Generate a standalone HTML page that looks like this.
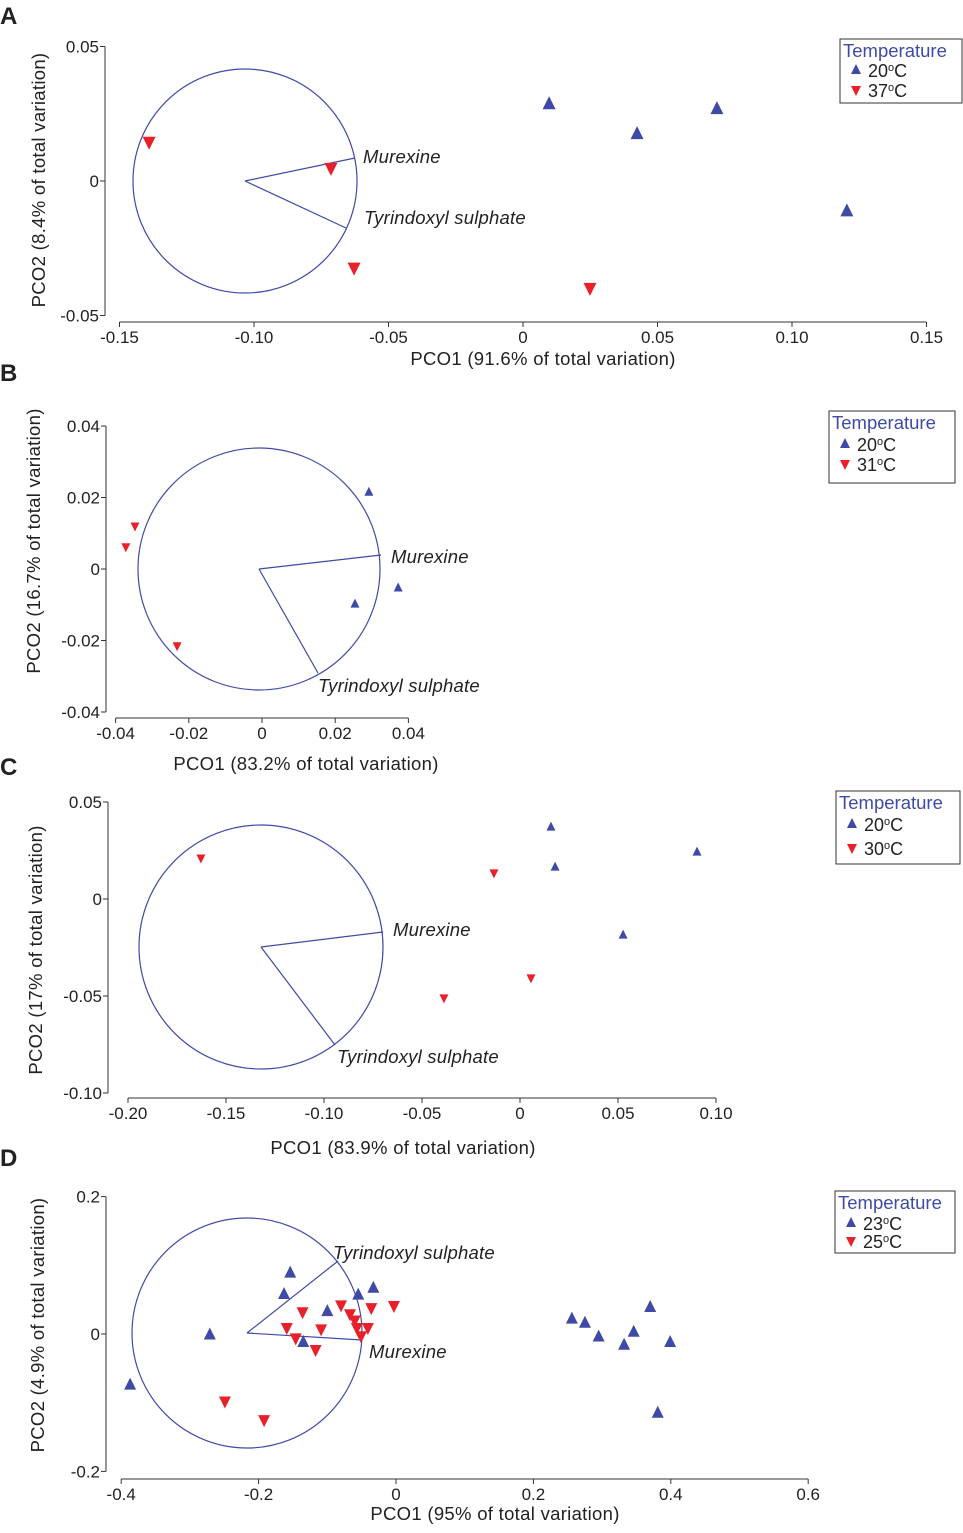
<!DOCTYPE html>
<html><head><meta charset="utf-8"><style>
body{margin:0;background:#fff;width:963px;height:1533px;overflow:hidden}
svg{position:absolute;left:0;top:0}
text{font-family:"Liberation Sans",sans-serif;fill:#222}
</style></head><body>
<svg id="fig" width="963" height="1533"></svg>
<script>
// Panel A data
const aUpX=[0.0097,0.0424,0.0721,0.1204];
const aUpY=[0.0286,0.0175,0.0268,-0.0112];
const aDnX=[-0.139,-0.0714,-0.0628,0.0249];
const aDnY=[0.0145,0.0048,-0.0323,-0.0398];
const aXTicks=[-0.15,-0.10,-0.05,0,0.05,0.10,0.15];
const aXLabels=["-0.15","-0.10","-0.05","0","0.05","0.10","0.15"];
const aYTicks=[0.05,0,-0.05];
const aYLabels=["0.05","0","-0.05"];
// Panel B data
const bUpX=[0.0292,0.0372,0.0254];
const bUpY=[0.0215,-0.0053,-0.0098];
const bDnX=[-0.0347,-0.0372,-0.0232];
const bDnY=[0.012,0.0062,-0.0215];
const bXTicks=[-0.04,-0.02,0,0.02,0.04];
const bXLabels=["-0.04","-0.02","0","0.02","0.04"];
const bYTicks=[0.04,0.02,0,-0.02,-0.04];
const bYLabels=["0.04","0.02","0","-0.02","-0.04"];
// Panel C data
const cUpX=[0.0158,0.0179,0.0903,0.0526];
const cUpY=[0.0371,0.0165,0.0242,-0.0186];
const cDnX=[-0.1628,-0.0133,0.0056,-0.0388];
const cDnY=[0.0211,0.0134,-0.0407,-0.051];
const cXTicks=[-0.20,-0.15,-0.10,-0.05,0,0.05,0.10];
const cXLabels=["-0.20","-0.15","-0.10","-0.05","0","0.05","0.10"];
const cYTicks=[0.05,0,-0.05,-0.10];
const cYLabels=["0.05","0","-0.05","-0.10"];
// Panel D data
const dUpX=[-0.387,-0.271,-0.154,-0.163,-0.135,-0.100,-0.055,-0.033,0.256,0.275,0.295,0.332,0.346,0.370,0.399,0.381];
const dUpY=[-0.074,-0.001,0.089,0.058,-0.012,0.033,0.057,0.067,0.022,0.016,-0.004,-0.016,0.003,0.039,-0.012,-0.115];
const dDnX=[-0.159,-0.146,-0.136,-0.117,-0.109,-0.080,-0.067,-0.060,-0.057,-0.051,-0.041,-0.036,-0.003,-0.249,-0.192];
const dDnY=[0.009,-0.006,0.032,-0.023,0.007,0.042,0.029,0.020,0.009,-0.003,0.009,0.038,0.041,-0.098,-0.125];
const dXTicks=[-0.4,-0.2,0,0.2,0.4,0.6];
const dXLabels=["-0.4","-0.2","0","0.2","0.4","0.6"];
const dYTicks=[0.2,0,-0.2];
const dYLabels=["0.2","0","-0.2"];

const NS="http://www.w3.org/2000/svg";
const svg=document.getElementById('fig');
const BLUE="#3f4aa6",RED="#e8202a";
function mk(tag,attrs,parent){const e=document.createElementNS(NS,tag);for(const k in attrs)e.setAttribute(k,attrs[k]);(parent||svg).appendChild(e);return e;}
function txt(s,x,y,size,parent,anchor,extra){const t=mk('text',Object.assign({x:x,y:y,'font-size':size,'text-anchor':anchor||'start'},extra||{}),parent);t.textContent=s;return t;}

function panel(P){
  const g=mk('g',{});
  
  
  const sx=v=>P.x0+v*P.kx, sy=v=>P.y0-v*P.ky;
  const lab=txt(P.id,0,P.labY,24,g,'start',{'font-weight':'bold'});
  
  const ya=mk('line',{x1:P.yAxX,x2:P.yAxX,y1:sy(P.yT[0]),y2:sy(P.yT[P.yT.length-1]),stroke:'#333','stroke-width':1},g);
  
  const xa=mk('line',{x1:sx(P.xT[0]),x2:sx(P.xT[P.xT.length-1]),y1:P.xAxY,y2:P.xAxY,stroke:'#333','stroke-width':1},g);
  
  P.xT.forEach((v,i)=>{
    mk('line',{x1:sx(v),x2:sx(v),y1:P.xAxY,y2:P.xAxY+5,stroke:'#333'},g);
    const t=txt(P.xL[i],sx(v),P.xAxY+21,17,g,'middle');
    
  });
  P.yT.forEach((v,i)=>{
    mk('line',{x1:P.yAxX-5,x2:P.yAxX,y1:sy(v),y2:sy(v),stroke:'#333'},g);
    const t=txt(P.yL[i],P.yAxX-6,sy(v)+6,17,g,'end');
    
  });
  const xt=txt(P.xTitle,P.xTitleX,P.xTitleY,18.5,g,'middle',{'letter-spacing':'0.3'});
  
  const yt=txt(P.yTitle,0,0,18.5,g,'middle',{'letter-spacing':'0.3',transform:`translate(${P.yTitleX},${P.yTitleY}) rotate(-90)`});
  
  const c=mk('circle',{cx:P.cx,cy:P.cy,r:P.r,fill:'none',stroke:BLUE,'stroke-width':1.2},g);
  
  P.vec.forEach(v=>{
    const l=mk('line',{x1:P.cx,y1:P.cy,x2:v[0],y2:v[1],stroke:BLUE,'stroke-width':1.2},g);
    
    const t=txt(v[2],v[3],v[4],18.5,g,'start',{'font-style':'italic','letter-spacing':'0.2'});
    
  });
  const s=P.ts;
  P.upX.forEach((x,i)=>{
    const px=sx(x),py=sy(P.upY[i]);
    const p=mk('polygon',{points:`${px},${py-s*0.6} ${px-s/2},${py+s*0.4} ${px+s/2},${py+s*0.4}`,fill:BLUE},g);
    
  });
  P.dnX.forEach((x,i)=>{
    const px=sx(x),py=sy(P.dnY[i]);
    const p=mk('polygon',{points:`${px},${py+s*0.6} ${px-s/2},${py-s*0.4} ${px+s/2},${py-s*0.4}`,fill:RED},g);
    
  });
  const L=P.leg;
  const lg=mk('g',{},g);
  
  mk('rect',{x:L.x,y:L.y,width:L.w,height:L.h,fill:'#fff',stroke:'#333','stroke-width':1},lg);
  const lt=txt('Temperature',L.x+3,L.y+18,18.5,lg,'start',{style:'fill:'+BLUE});
  
  const ls=10;
  [[L.t1,BLUE,true,L.r1],[L.t2,RED,false,L.r2]].forEach(e=>{
    const yy=L.y+e[3],px=L.x+16;
    const pts=e[2]?`${px},${yy-ls*0.6} ${px-ls/2},${yy+ls*0.4} ${px+ls/2},${yy+ls*0.4}`:`${px},${yy+ls*0.6} ${px-ls/2},${yy-ls*0.4} ${px+ls/2},${yy-ls*0.4}`;
    mk('polygon',{points:pts,fill:e[1]},lg);
    const t=txt('',L.x+28,yy+7,18,lg);
    
    t.innerHTML=e[0]+'<tspan font-size="11" dy="-6">o</tspan><tspan dy="6">C</tspan>';
  });
}

panel({id:'A',labY:24,x0:523,kx:2690,y0:181,ky:2690,yAxX:105,xAxY:322,xT:aXTicks,xL:aXLabels,yT:aYTicks,yL:aYLabels,
 xTitle:'PCO1 (91.6% of total variation)',xTitleX:543,xTitleY:365,yTitle:'PCO2 (8.4% of total variation)',yTitleX:45,yTitleY:180,
 cx:245,cy:181,r:112,vec:[[355,158,'Murexine',363,163],[346,228,'Tyrindoxyl sulphate',364,224]],
 upX:aUpX,upY:aUpY,dnX:aDnX,dnY:aDnY,ts:13,
 leg:{x:840,y:39,w:122,h:64,t1:'20',t2:'37',r1:31,r2:51}});
panel({id:'B',labY:381,x0:262,kx:3660,y0:569,ky:3575,yAxX:106,xAxY:718,xT:bXTicks,xL:bXLabels,yT:bYTicks,yL:bYLabels,
 xTitle:'PCO1 (83.2% of total variation)',xTitleX:306,xTitleY:770,yTitle:'PCO2 (16.7% of total variation)',yTitleX:40,yTitleY:541,
 cx:259,cy:569,r:121,vec:[[381,555,'Murexine',391,563],[318,673,'Tyrindoxyl sulphate',318,692]],
 upX:bUpX,upY:bUpY,dnX:bDnX,dnY:bDnY,ts:9,
 leg:{x:829,y:411,w:126,h:72,t1:'20',t2:'31',r1:33,r2:53}});
panel({id:'C',labY:775,x0:520,kx:1960,y0:899,ky:1940,yAxX:108,xAxY:1098,xT:cXTicks,xL:cXLabels,yT:cYTicks,yL:cYLabels,
 xTitle:'PCO1 (83.9% of total variation)',xTitleX:403,xTitleY:1154,yTitle:'PCO2 (17% of total variation)',yTitleX:42,yTitleY:950,
 cx:261,cy:947,r:122,vec:[[383,932,'Murexine',393,936],[335,1045,'Tyrindoxyl sulphate',337,1063]],
 upX:cUpX,upY:cUpY,dnX:cDnX,dnY:cDnY,ts:9,
 leg:{x:836,y:791,w:124,h:73,t1:'20',t2:'30',r1:33,r2:57}});
panel({id:'D',labY:1166,x0:396,kx:687,y0:1334,ky:687,yAxX:106,xAxY:1479,xT:dXTicks,xL:dXLabels,yT:dYTicks,yL:dYLabels,
 xTitle:'PCO1 (95% of total variation)',xTitleX:495,xTitleY:1520,yTitle:'PCO2 (4.9% of total variation)',yTitleX:44,yTitleY:1325,
 cx:247,cy:1333,r:115,vec:[[338,1261,'Tyrindoxyl sulphate',333,1259],[362,1340,'Murexine',369,1358]],
 upX:dUpX,upY:dUpY,dnX:dDnX,dnY:dDnY,ts:12,
 leg:{x:835,y:1191,w:120,h:62,t1:'23',t2:'25',r1:32,r2:50}});
</script>
</body></html>
